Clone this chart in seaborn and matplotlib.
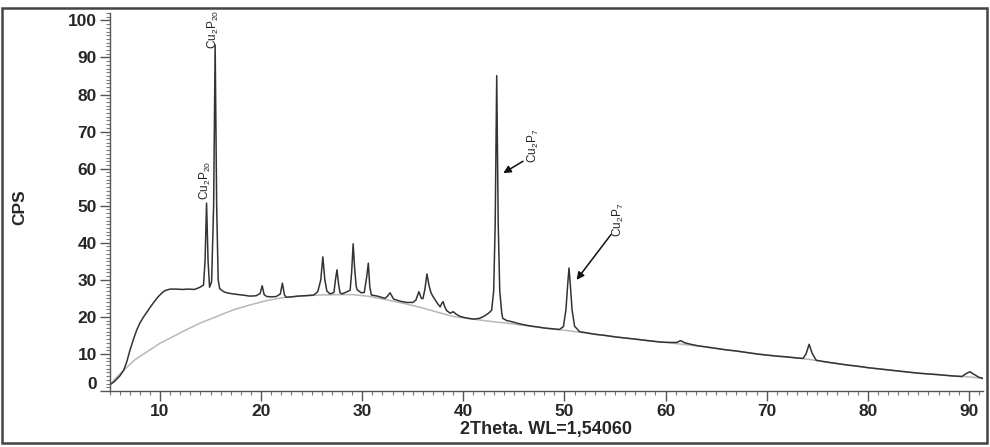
import matplotlib
matplotlib.use("Agg")
import matplotlib.pyplot as plt
import matplotlib.transforms as mtransforms
from matplotlib.patches import Rectangle
from matplotlib.ticker import MultipleLocator
import seaborn as sns

two_theta = [
    5.0, 5.5, 6.0, 6.4, 6.7, 7.0, 7.4, 7.7, 8.0, 8.35, 8.7, 9.0, 9.4, 9.8, 10.2, 10.5,
    11.0, 11.6, 12.2, 12.8, 13.4, 13.95, 14.3, 14.45, 14.6, 14.75, 14.9, 15.1, 15.3,
    15.45, 15.6, 15.75, 15.9, 16.3, 16.6, 17.2, 17.8, 18.4, 18.9, 19.5, 19.9, 20.1,
    20.3, 20.55, 21.0, 21.5, 21.9, 22.1, 22.3, 22.45, 23.0, 23.6, 24.2, 24.8, 25.2,
    25.6, 25.9, 26.1, 26.3, 26.5, 26.8, 27.2, 27.35, 27.5, 27.65, 27.8, 28.0, 28.5,
    28.8, 28.95, 29.1, 29.25, 29.4, 29.5, 29.9, 30.2, 30.45, 30.6, 30.75, 30.9, 31.5,
    32.25, 32.5, 32.75, 33.0, 33.1, 33.8, 34.4, 35.0, 35.3, 35.6, 35.85, 36.0, 36.2,
    36.4, 36.6, 36.8, 37.0, 37.4, 37.7, 37.9, 38.0, 38.15, 38.35, 38.7, 39.0, 39.3,
    39.7, 40.3, 41.0, 41.6, 42.0, 42.5, 42.8, 43.0, 43.15, 43.3, 43.45, 43.6, 43.8,
    43.9, 44.3, 44.8, 45.6, 46.5, 47.3, 48.0, 48.8, 49.5, 49.9, 50.15, 50.3, 50.45,
    50.6, 50.75, 51.0, 51.5, 52.2, 53.0, 54.0, 55.0, 56.0, 57.0, 58.2, 59.5, 60.5,
    61.1, 61.5, 61.9, 62.5, 63.2, 64.0, 65.0, 66.0, 67.0, 68.0, 69.0, 70.0, 71.0,
    72.0, 73.0, 73.6, 73.9, 74.2, 74.5, 74.9, 75.5, 76.2, 77.0, 78.0, 79.0, 80.0,
    81.0, 82.0, 83.0, 84.0, 85.0, 86.0, 87.0, 88.2, 89.3, 89.8, 90.1, 90.5, 91.0, 91.4,
]
cps = [
    1.6, 2.6, 4.0, 5.6, 7.8, 10.8, 14.2, 16.5, 18.3, 19.9, 21.3, 22.5, 24.0, 25.4, 26.5, 27.1,
    27.5, 27.5, 27.4, 27.5, 27.4, 28.0, 28.6, 35.0, 50.7, 35.0, 28.0, 29.5, 50.0,
    93.4, 50.0, 30.0, 27.6, 26.8, 26.5, 26.2, 26.0, 25.8, 25.6, 25.7, 26.3, 28.4,
    26.0, 25.5, 25.4, 25.5, 26.2, 29.1, 26.0, 25.3, 25.4, 25.6, 25.7, 25.8, 25.9,
    26.8, 30.0, 36.2, 30.0, 27.0, 26.2, 26.6, 30.0, 32.7, 29.0, 26.5, 26.2, 26.8,
    27.2, 32.0, 39.7, 33.0, 28.3, 27.3, 26.5, 26.6, 31.0, 34.5, 28.0, 25.9, 25.6,
    25.0, 25.6, 26.5, 25.3, 24.8, 24.2, 23.9, 23.9, 24.5, 26.8, 25.0, 24.9, 27.5,
    31.6, 28.5, 26.5, 25.5, 23.8, 22.7, 23.8, 24.1, 22.8, 21.7, 21.0, 21.4, 20.7,
    20.1, 19.7, 19.4, 19.6, 20.1, 21.0, 21.8, 27.0, 45.0, 85.1, 45.0, 27.0, 21.0,
    19.6, 19.0, 18.7, 18.1, 17.6, 17.3, 17.0, 16.8, 16.6, 17.4, 22.0, 28.0, 33.2,
    28.0, 22.0, 17.5, 16.0, 15.7, 15.3, 15.0, 14.6, 14.3, 14.0, 13.6, 13.2, 13.1,
    13.1, 13.6, 13.0, 12.6, 12.2, 11.9, 11.5, 11.1, 10.8, 10.4, 10.0, 9.7, 9.4,
    9.2, 8.9, 8.8, 10.0, 12.6, 10.2, 8.3, 8.0, 7.7, 7.4, 7.0, 6.7, 6.3,
    6.0, 5.7, 5.4, 5.1, 4.8, 4.6, 4.4, 4.1, 3.9, 4.8, 5.2, 4.5, 3.7, 3.4,
]

# fitted background
bg_theta = [
    5.0, 5.7, 6.4, 7.5, 9.0, 10.0, 11.3, 12.5, 13.95, 15.5, 17.25, 19.0, 20.55, 22.2, 23.8,
    25.8, 27.5, 29.0, 30.5, 32.4, 34.0, 35.7, 37.4, 39.0, 40.7, 42.3, 44.3, 46.0, 48.0,
    50.0, 52.0, 54.0, 56.0, 58.0, 60.0, 62.0, 64.0, 66.0, 68.0, 70.0, 72.0, 74.0, 76.0,
    78.0, 80.0, 82.0, 84.0, 86.0, 88.0, 90.0, 91.4,
]
bg_cps = [
    1.6, 3.7, 5.6, 8.4, 11.1, 12.9, 14.7, 16.4, 18.3, 20.0, 21.9, 23.3, 24.4, 25.2, 25.6,
    25.9, 26.0, 26.0, 25.6, 24.6, 23.7, 22.6, 21.3, 20.1, 19.5, 18.9, 18.3, 17.7, 17.0,
    16.4, 15.7, 15.0, 14.3, 13.7, 13.1, 12.5, 11.9, 11.1, 10.4, 9.7, 9.2, 8.6, 7.8,
    7.0, 6.3, 5.7, 5.1, 4.6, 4.2, 3.8, 3.4,
]

x_ticks = [10, 20, 30, 40, 50, 60, 70, 80, 90]
y_ticks = [0, 10, 20, 30, 40, 50, 60, 70, 80, 90, 100]

sns.set_theme(style="ticks")
plt.rcParams["font.family"] = ["Liberation Sans", "DejaVu Sans"]
plt.rcParams["mathtext.default"] = "regular"

fig = plt.figure(figsize=(9.9, 4.47), dpi=100)
ax = fig.add_axes([109.5 / 990, 56 / 447, 873.5 / 990, 378 / 447])

sns.lineplot(x=bg_theta, y=bg_cps, ax=ax, color="#b8b8b8", linewidth=1.1)
sns.lineplot(x=two_theta, y=cps, ax=ax, color="#333333", linewidth=1.1)

ax.set_xlim(5, 91.4)
ax.set_ylim(0, 102)
ax.set_xticks(x_ticks)
ax.set_yticks(y_ticks)
ax.xaxis.set_minor_locator(MultipleLocator(1))
ax.yaxis.set_minor_locator(MultipleLocator(1))
for lab in ax.get_xticklabels() + ax.get_yticklabels():
    lab.set_fontweight("bold")
    lab.set_fontsize(12.5)
ax.tick_params(axis="both", which="major", length=7, width=1, color="#555", pad=2)
ax.tick_params(axis="both", which="minor", length=3, width=0.8, color="#777")
sns.despine(ax=ax)
for side in ["left", "bottom"]:
    ax.spines[side].set_color("#555")
    ax.spines[side].set_linewidth(1)

# the "0" label sits a little above its tick
zero_lab = ax.get_yticklabels()[0]
zero_lab.set_transform(zero_lab.get_transform()
                       + mtransforms.ScaledTranslation(0, 8 / 100, fig.dpi_scale_trans))

ax.set_ylabel("CPS", fontsize=12.5, fontweight="bold")
ax.yaxis.set_label_coords(-0.094, 0.487)
ax.set_xlabel("2Theta. WL=1,54060", fontsize=13, fontweight="bold")
ax.xaxis.set_label_coords(0.5, -0.08)

lab_font = dict(family=["Liberation Sans Narrow", "Liberation Sans", "DejaVu Sans"],
                fontsize=8.5, rotation=90, color="#222")
ax.text(14.5, 51.5, "Cu$_2$P$_{20}$", ha="center", va="bottom", **lab_font)
ax.text(15.3, 92.4, "Cu$_2$P$_{20}$", ha="center", va="bottom", **lab_font)
ax.text(46.9, 61.5, "Cu$_2$P$_7$", ha="center", va="bottom", **lab_font)
ax.text(55.3, 41.5, "Cu$_2$P$_7$", ha="center", va="bottom", **lab_font)

arrow = dict(arrowstyle="-|>", color="#111", lw=1.1, mutation_scale=11, shrinkA=0, shrinkB=0)
ax.annotate("", xy=(43.95, 58.8), xytext=(45.9, 62.0), arrowprops=arrow)
ax.annotate("", xy=(51.2, 30.0), xytext=(54.6, 42.2), arrowprops=arrow)

fig.patches.append(Rectangle((0.002, 0.009), 0.995, 0.973, transform=fig.transFigure,
                             fill=False, edgecolor="#444", linewidth=1.8))

fig.savefig("out.png", dpi=100)
